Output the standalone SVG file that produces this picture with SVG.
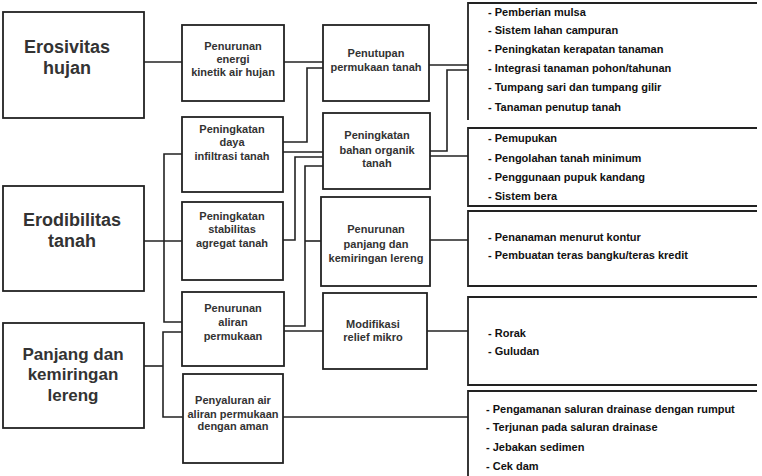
<svg xmlns="http://www.w3.org/2000/svg" width="762" height="476" viewBox="0 0 762 476">
<style>
.box{fill:#fff;stroke:#222;stroke-width:1.8}
.open{fill:none;stroke:#222;stroke-width:1.8}
.big{font-family:"Liberation Sans",Arial,sans-serif;font-weight:bold;font-size:18px;fill:#333;text-anchor:middle}
.mid{font-family:"Liberation Sans",Arial,sans-serif;font-weight:bold;font-size:11px;fill:#333;text-anchor:middle}
.lst{font-family:"Liberation Sans",Arial,sans-serif;font-weight:bold;font-size:11px;fill:#111}
.con{fill:none;stroke:#222;stroke-width:1.6}
</style>
<rect width="762" height="476" fill="#fff"/>
<g id="connectors" class="con">
<path d="M144,62H182"/>
<path d="M284,62H323"/>
<path d="M283,142H307V68H323"/>
<path d="M283,152H323"/>
<path d="M283,240H295V157H323"/>
<path d="M284,326H305V166H323"/>
<path d="M305,241H321"/>
<path d="M284,331H323"/>
<path d="M144,241H182"/>
<path d="M182,154H164V322H182"/>
<path d="M144,366H163"/>
<path d="M182,332H163V417H183"/>
<path d="M429,65H468"/>
<path d="M430,151H447V70H468"/>
<path d="M430,156H468"/>
<path d="M430,240H468"/>
<path d="M427,331H468"/>
<path d="M283,417H468"/>
</g>
<g id="n-erosivitas"><rect class="box" x="3" y="12" width="141" height="106"/><text class="big" x="67" y="53">Erosivitas</text><text class="big" x="67" y="74">hujan</text></g>
<g id="n-erodibilitas"><rect class="box" x="3" y="186" width="141" height="105"/><text class="big" x="72" y="226">Erodibilitas</text><text class="big" x="72" y="247">tanah</text></g>
<g id="n-panjang"><rect class="box" x="3" y="323" width="141" height="105"/><text class="big" x="73" y="360" style="font-size:17px">Panjang dan</text><text class="big" x="73" y="380" style="font-size:17px">kemiringan</text><text class="big" x="73" y="401" style="font-size:17px">lereng</text></g>
<g id="n-energi"><rect class="box" x="182" y="25" width="102" height="76"/><text class="mid" x="233" y="50">Penurunan</text><text class="mid" x="233" y="63">energi</text><text class="mid" x="233" y="76">kinetik air hujan</text></g>
<g id="n-infiltrasi"><rect class="box" x="182" y="117" width="101" height="75"/><text class="mid" x="232" y="133">Peningkatan</text><text class="mid" x="232" y="146">daya</text><text class="mid" x="232" y="160">infiltrasi tanah</text></g>
<g id="n-stabilitas"><rect class="box" x="182" y="202" width="101" height="78"/><text class="mid" x="232" y="220">Peningkatan</text><text class="mid" x="232" y="233">stabilitas</text><text class="mid" x="232" y="247">agregat tanah</text></g>
<g id="n-aliran"><rect class="box" x="182" y="292" width="102" height="74"/><text class="mid" x="233" y="312">Penurunan</text><text class="mid" x="233" y="326">aliran</text><text class="mid" x="233" y="340">permukaan</text></g>
<g id="n-penyaluran"><rect class="box" x="183" y="374" width="100" height="89"/><text class="mid" x="233" y="404">Penyaluran air</text><text class="mid" x="233" y="418">aliran permukaan</text><text class="mid" x="233" y="430">dengan aman</text></g>
<g id="n-penutupan"><rect class="box" x="323" y="25" width="106" height="76"/><text class="mid" x="376" y="57">Penutupan</text><text class="mid" x="376" y="71">permukaan tanah</text></g>
<g id="n-organik"><rect class="box" x="323" y="113" width="107" height="76"/><text class="mid" x="377" y="139">Peningkatan</text><text class="mid" x="377" y="154">bahan organik</text><text class="mid" x="377" y="167">tanah</text></g>
<g id="n-lereng"><rect class="box" x="321" y="197" width="109" height="89"/><text class="mid" x="376" y="233">Penurunan</text><text class="mid" x="376" y="248">panjang dan</text><text class="mid" x="376" y="262">kemiringan lereng</text></g>
<g id="n-relief"><rect class="box" x="323" y="293" width="104" height="76"/><text class="mid" x="373" y="328">Modifikasi</text><text class="mid" x="373" y="341">relief mikro</text></g>
<g id="n-list1"><path class="open" d="M757,3H468V120"/>
<text class="lst" x="488" y="16">- Pemberian mulsa</text>
<text class="lst" x="488" y="34">- Sistem lahan campuran</text>
<text class="lst" x="488" y="53">- Peningkatan kerapatan tanaman</text>
<text class="lst" x="488" y="72">- Integrasi tanaman pohon/tahunan</text>
<text class="lst" x="488" y="91">- Tumpang sari dan tumpang gilir</text>
<text class="lst" x="488" y="111">- Tanaman penutup tanah</text></g>
<g id="n-list2"><path class="open" d="M757,128H468V206H757"/>
<text class="lst" x="488" y="142">- Pemupukan</text>
<text class="lst" x="488" y="162">- Pengolahan tanah minimum</text>
<text class="lst" x="488" y="181">- Penggunaan pupuk kandang</text>
<text class="lst" x="488" y="200">- Sistem bera</text></g>
<g id="n-list3"><path class="open" d="M757,211H468V286H757"/>
<text class="lst" x="488" y="241">- Penanaman menurut kontur</text>
<text class="lst" x="488" y="259">- Pembuatan teras bangku/teras kredit</text></g>
<g id="n-list4"><path class="open" d="M757,297H468V385H757"/>
<text class="lst" x="488" y="337">- Rorak</text>
<text class="lst" x="488" y="355">- Guludan</text></g>
<g id="n-list5"><path class="open" d="M757,391H468V476"/>
<text class="lst" x="486" y="413">- Pengamanan saluran drainase dengan rumput</text>
<text class="lst" x="486" y="431">- Terjunan pada saluran drainase</text>
<text class="lst" x="486" y="451">- Jebakan sedimen</text>
<text class="lst" x="486" y="470">- Cek dam</text></g>
</svg>
